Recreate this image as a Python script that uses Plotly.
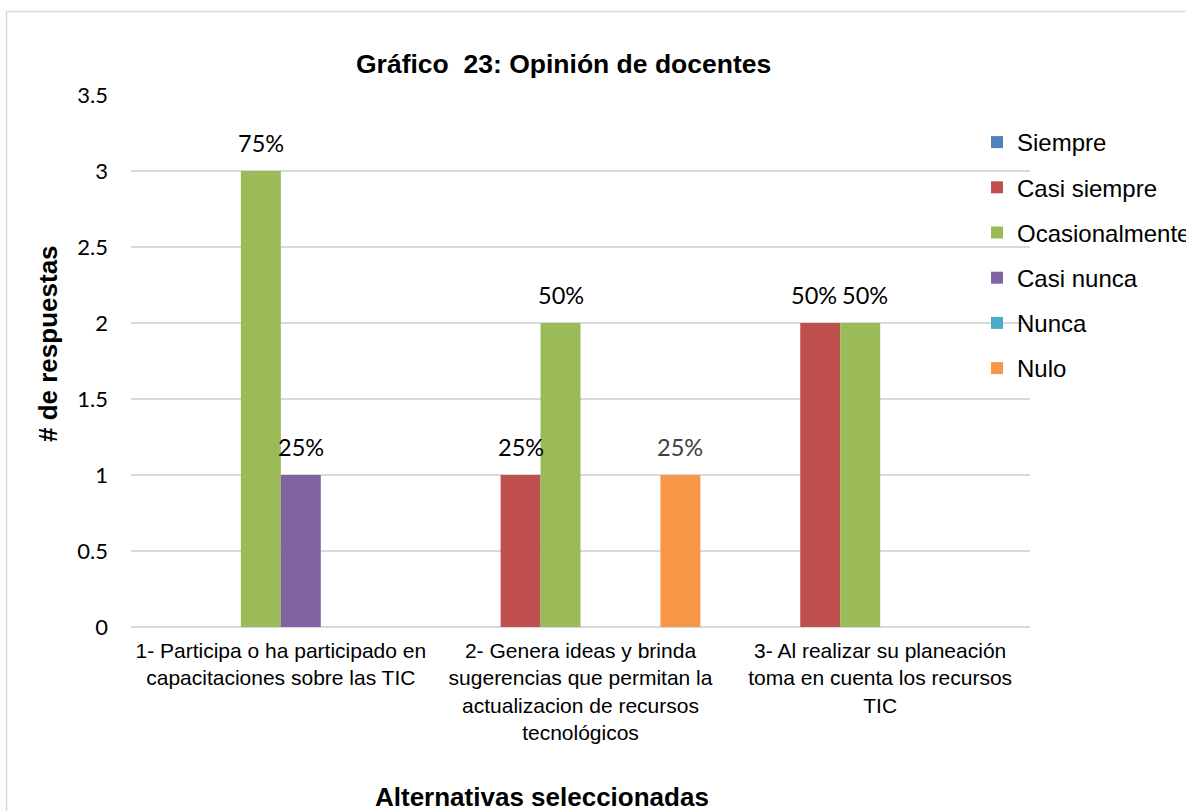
import plotly.graph_objects as go

categories = [
    "1- Participa o ha participado en<br>capacitaciones sobre las TIC",
    "2- Genera ideas y brinda<br>sugerencias que permitan la<br>actualizacion de recursos<br>tecnológicos",
    "3- Al realizar su planeación<br>toma en cuenta los recursos<br>TIC",
]
series_names = ["Siempre", "Casi siempre", "Ocasionalmente", "Casi nunca", "Nunca", "Nulo"]
siempre = [0, 0, 0]
casi_siempre = [0, 1, 2]
ocasionalmente = [3, 2, 2]
casi_nunca = [1, 0, 0]
nunca = [0, 0, 0]
nulo = [0, 1, 0]
series_values = [siempre, casi_siempre, ocasionalmente, casi_nunca, nunca, nulo]
total_docentes = 4
colors = ["#4F81BD", "#C0504D", "#9BBB59", "#8064A2", "#4BACC6", "#F79646"]
label_colors = ["#000000", "#000000", "#000000", "#000000", "#000000", "#404040"]
# small horizontal nudges (px) applied to data labels that would otherwise touch
label_nudge = {("Casi siempre", 2): -6, ("Ocasionalmente", 2): 5}
y_ticks = [0, 0.5, 1, 1.5, 2, 2.5, 3, 3.5]
y_tick_text = ["0", "0.5", "1", "1.5", "2", "2.5", "3", "3.5"]

W, H = 1186, 811
ML, MT = 131, 95
plot_w, plot_h = 899, 532
MR = W - ML - plot_w
MB = H - MT - plot_h
bargap = 0.2

fig = go.Figure()
for i, (name, vals) in enumerate(zip(series_names, series_values)):
    fig.add_trace(go.Bar(
        name=name, x=categories, y=vals, marker_color=colors[i],
        marker_line_width=0, legendgroup=name,
    ))

bar_px = plot_w / len(categories) * (1 - bargap) / len(series_names)
annotations = []
for i, (name, vals) in enumerate(zip(series_names, series_values)):
    for j, v in enumerate(vals):
        if v > 0:
            annotations.append(dict(
                x=categories[j], y=v, xref="x", yref="y",
                text=f"{round(v / total_docentes * 100)}%",
                showarrow=False, yanchor="bottom",
                xshift=(i - (len(series_names) - 1) / 2) * bar_px + label_nudge.get((name, j), 0),
                yshift=12,
                font=dict(family="Lato", size=23.5, color=label_colors[i]),
            ))

def px_to_paper_x(px):
    return (px - ML) / plot_w

def px_to_paper_y(py):
    return (H - MB - py) / plot_h

annotations += [
    dict(text="<b>Gráfico \u00a023: Opinión de docentes</b>", xref="paper", yref="paper",
         x=px_to_paper_x(563), y=px_to_paper_y(64), showarrow=False,
         xanchor="center", yanchor="middle",
         font=dict(family="Liberation Sans", size=26.5, color="#000000")),
    dict(text="<b>Alternativas seleccionadas</b>", xref="paper", yref="paper",
         x=px_to_paper_x(542), y=px_to_paper_y(797), showarrow=False,
         xanchor="center", yanchor="middle",
         font=dict(family="Liberation Sans", size=26, color="#000000")),
    dict(text="<b># de respuestas</b>", xref="paper", yref="paper",
         x=px_to_paper_x(48), y=px_to_paper_y(344), showarrow=False, textangle=-90,
         xanchor="center", yanchor="middle",
         font=dict(family="Liberation Sans", size=26, color="#000000")),
]

fig.update_layout(
    width=W, height=H,
    margin=dict(l=ML, r=MR, t=MT, b=MB, autoexpand=False),
    paper_bgcolor="white", plot_bgcolor="white",
    barmode="group", bargap=bargap, bargroupgap=0,
    showlegend=True,
    legend=dict(
        x=px_to_paper_x(977), y=px_to_paper_y(120), xanchor="left", yanchor="top",
        font=dict(family="Liberation Sans", size=24, color="#000000"),
        tracegroupgap=11, bgcolor="rgba(0,0,0,0)",
    ),
    annotations=annotations,
    shapes=[dict(type="rect", xref="paper", yref="paper",
                 x0=px_to_paper_x(6.5), x1=px_to_paper_x(1300),
                 y0=px_to_paper_y(900), y1=px_to_paper_y(11.5),
                 line=dict(color="#D9D9D9", width=1.5), layer="below")],
)
fig.update_xaxes(
    showgrid=False, showline=False, zeroline=False, ticks="",
    tickfont=dict(family="Liberation Sans", size=21, color="#000000"),
    ticklabelstandoff=9,
)
fig.update_yaxes(
    range=[0, 3.5], tickvals=y_ticks, ticktext=y_tick_text,
    showgrid=True, gridcolor="#D9D9D9", gridwidth=1.5,
    zeroline=True, zerolinecolor="#D9D9D9", zerolinewidth=1.5,
    showline=False, ticks="",
    tickfont=dict(family="Lato", size=22, color="#000000"),
    ticklabelstandoff=22,
)

fig.write_html(
    "out.html",
    config={"displayModeBar": False},
    post_script="document.body.style.margin='0';document.body.style.overflow='hidden';",
)
